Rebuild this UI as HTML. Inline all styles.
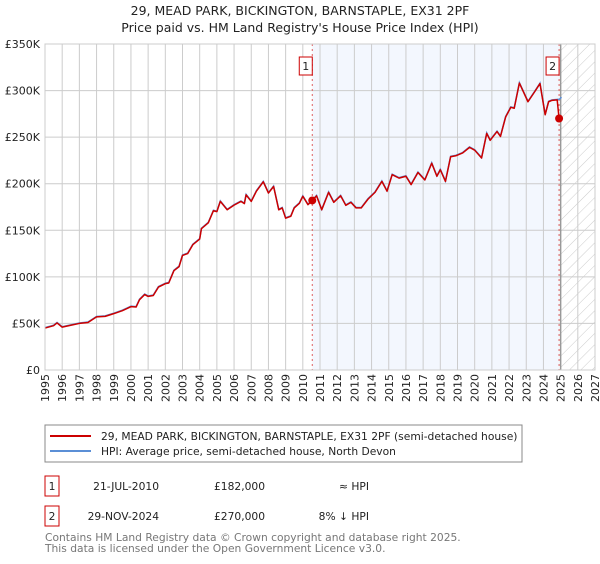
<!DOCTYPE html>
<html><head><meta charset="utf-8"><style>
body{margin:0;background:#fff;width:600px;height:560px;overflow:hidden;font-family:"DejaVu Sans","Liberation Sans",sans-serif;}
svg text{font-family:"DejaVu Sans","Liberation Sans",sans-serif;}
</style></head><body>
<svg id="chart" width="600" height="560" xmlns="http://www.w3.org/2000/svg">
<defs><pattern id="hatch" width="8" height="8" patternUnits="userSpaceOnUse" patternTransform="rotate(45)"><line x1="0" y1="0" x2="0" y2="8" stroke="#ccc" stroke-width="1"/></pattern></defs>
<text x="300" y="15" text-anchor="middle" font-size="12.5" fill="#222">29, MEAD PARK, BICKINGTON, BARNSTAPLE, EX31 2PF</text>
<text x="300" y="32" text-anchor="middle" font-size="12.5" fill="#222">Price paid vs. HM Land Registry's House Price Index (HPI)</text>
<g id="plot"></g>
<rect x="45" y="425" width="477" height="37" fill="#fff" stroke="#888"/>
<line x1="50" y1="436" x2="91" y2="436" stroke="#cc0000" stroke-width="2"/>
<text x="101" y="440" font-size="10.7" fill="#222">29, MEAD PARK, BICKINGTON, BARNSTAPLE, EX31 2PF (semi-detached house)</text>
<line x1="50" y1="451" x2="91" y2="451" stroke="#5b8fd6" stroke-width="2"/>
<text x="101" y="455" font-size="10.7" fill="#222">HPI: Average price, semi-detached house, North Devon</text>
<g font-size="10.7" fill="#222">
<rect x="45" y="476" width="14" height="20" fill="#fff" stroke="#cc0000"/><text x="52" y="490" text-anchor="middle">1</text>
<text x="159" y="490" text-anchor="end">21-JUL-2010</text>
<text x="265" y="490" text-anchor="end">£182,000</text>
<text x="369" y="490" text-anchor="end">≈ HPI</text></g>
<g font-size="10.7" fill="#222">
<rect x="45" y="506" width="14" height="20" fill="#fff" stroke="#cc0000"/><text x="52" y="520" text-anchor="middle">2</text>
<text x="159" y="520" text-anchor="end">29-NOV-2024</text>
<text x="265" y="520" text-anchor="end">£270,000</text>
<text x="369" y="520" text-anchor="end">8% ↓ HPI</text></g>
<text x="45" y="541" font-size="10.7" fill="#777">Contains HM Land Registry data © Crown copyright and database right 2025.</text>
<text x="45" y="552" font-size="10.7" fill="#777">This data is licensed under the Open Government Licence v3.0.</text>
</svg>
<script>
const years=[1995,1995.5,1995.7,1996,1996.5,1997,1997.5,1998,1998.5,1999,1999.5,2000,2000.3,2000.5,2000.8,2001,2001.3,2001.6,2002,2002.2,2002.5,2002.8,2003,2003.3,2003.6,2004,2004.1,2004.5,2004.8,2005,2005.2,2005.6,2006,2006.4,2006.6,2006.7,2007,2007.3,2007.7,2008,2008.3,2008.6,2008.8,2009,2009.3,2009.5,2009.8,2010,2010.3,2010.55,2010.8,2011.1,2011.5,2011.8,2012.2,2012.5,2012.8,2013.1,2013.4,2013.8,2014.2,2014.6,2014.9,2015.2,2015.6,2016,2016.3,2016.7,2017.1,2017.5,2017.8,2018,2018.3,2018.6,2018.9,2019.3,2019.7,2020,2020.4,2020.7,2020.9,2021.3,2021.5,2021.8,2022.1,2022.3,2022.6,2022.8,2023.1,2023.5,2023.8,2024.1,2024.3,2024.5,2024.8];
const prices=[45,47.6,50.5,46,48,50,51,57,57.6,60.5,63.7,68,67.6,75.5,81,79,80,89,92.7,93.4,106.6,111,123,125,134.5,140.6,151.7,158,171,170,181,172,177,181,178.6,188,181,192,202,190,197,172,174,163,165,174,179,186.5,177.5,182,187,172,190.7,180,187,176.8,180,174,174,183.6,190.7,202.5,192,209.7,206,208,199,212,204,222,208,215,202.5,229,230,233,239,236,227.6,254,246.6,256,250.8,271.6,282,281,308,300,288,299,307.5,274,288,289.5,290];
const hpiTailYears=[2024.8,2024.95,2025.05];
const hpiTail=[290,291,293];
const sales=[{n:"1",year:2010.55,price:182},{n:"2",year:2024.91,price:270}];
const yTicks=[0,50,100,150,200,250,300,350];
const yLabels=["£0","£50K","£100K","£150K","£200K","£250K","£300K","£350K"];
const xTicks=[1995,1996,1997,1998,1999,2000,2001,2002,2003,2004,2005,2006,2007,2008,2009,2010,2011,2012,2013,2014,2015,2016,2017,2018,2019,2020,2021,2022,2023,2024,2025,2026,2027];
const L=45,R=595,T=44,B=370;
const X=y=>L+(y-1995)/(2027-1995)*(R-L);
const Y=v=>B-v/350*(B-T);
const g=document.getElementById('plot');
const NS="http://www.w3.org/2000/svg";
function mk(t,a){const e=document.createElementNS(NS,t);for(const k in a)e.setAttribute(k,a[k]);g.appendChild(e);return e;}
let e;
e=mk('rect',{x:X(sales[0].year),y:T,width:X(sales[1].year)-X(sales[0].year),height:B-T,fill:'#eef3fd',opacity:0.7});


e=mk('rect',{x:X(2025),y:T,width:R-X(2025),height:B-T,fill:'url(#hatch)'});


xTicks.forEach(t=>{e=mk('line',{x1:X(t),y1:T,x2:X(t),y2:B,stroke:'#ccc','stroke-width':1});


e=mk('text',{x:0,y:0,'font-size':11,fill:'#222','text-anchor':'end',transform:`translate(${X(t)+4},${B+4}) rotate(-90)`});e.textContent=t;

});
yTicks.forEach((t,i)=>{e=mk('line',{x1:L,y1:Y(t),x2:R,y2:Y(t),stroke:'#ccc','stroke-width':1});


e=mk('text',{x:L-5,y:Y(t)+4,'font-size':11,fill:'#222','text-anchor':'end'});e.textContent=yLabels[i];

});
e=mk('line',{x1:X(2025),y1:T,x2:X(2025),y2:B,stroke:'#999','stroke-width':1.5});


sales.forEach(s=>{e=mk('line',{x1:X(s.year),y1:T,x2:X(s.year),y2:B,stroke:'#e06060','stroke-width':1,'stroke-dasharray':'2,3'});

});
let hp=years.map((y,i)=>X(y)+','+Y(prices[i]+0.5)).concat(hpiTailYears.map((y,i)=>X(y)+','+Y(hpiTail[i])));
e=mk('polyline',{points:hp.join(' '),fill:'none',stroke:'#5b8fd6','stroke-width':1.5});


let rp=years.map((y,i)=>X(y)+','+Y(prices[i])).concat([X(sales[1].year)+','+Y(sales[1].price)]);
e=mk('polyline',{points:rp.join(' '),fill:'none',stroke:'#cc0000','stroke-width':1.5,'stroke-linejoin':'round'});


sales.forEach(s=>{e=mk('circle',{cx:X(s.year),cy:Y(s.price),r:4,fill:'#cc0000'});


e=mk('rect',{x:X(s.year)-13,y:57,width:13,height:18,fill:'#fff',stroke:'#cc0000'});


e=mk('text',{x:X(s.year)-6.5,y:70,'font-size':11,'text-anchor':'middle',fill:'#222'});e.textContent=s.n;

});
e=mk('rect',{x:L,y:T,width:R-L,height:B-T,fill:'none',stroke:'#ccc'});


</script>
</body></html>
